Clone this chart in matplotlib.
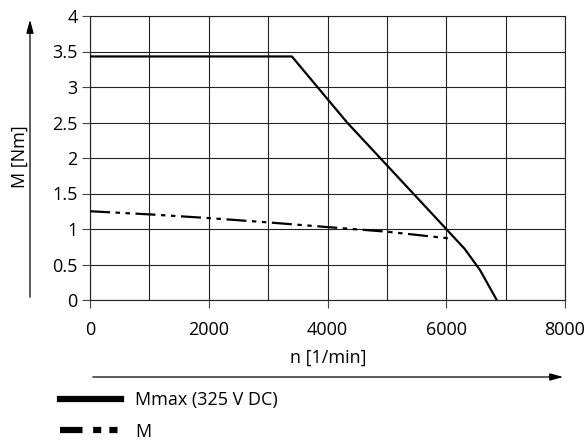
import numpy as np
import matplotlib.pyplot as plt
from matplotlib.patches import FancyArrowPatch

plt.rcParams['font.family'] = ['Open Sans', 'DejaVu Sans']
plt.rcParams['font.size'] = 13

# Mmax (325 V DC)
n_max = [0, 3400, 4330, 6000, 6310, 6570, 6850]
m_max = [3.43, 3.43, 2.5, 1.0, 0.72, 0.42, 0.0]

# M
n_m = [0, 1000, 2000, 3000, 4000, 5000, 6000, 6070]
m_m = [1.25, 1.206, 1.154, 1.093, 1.027, 0.962, 0.872, 0.86]

xticks = [0, 2000, 4000, 6000, 8000]
yticks = [0, 0.5, 1, 1.5, 2, 2.5, 3, 3.5, 4]
ylabels = ['0', '0.5', '1', '1.5', '2', '2.5', '3', '3.5', '4']

fig = plt.figure(figsize=(5.87, 4.45), dpi=100)
ax = fig.add_axes([90/587, 1-300/445, 475/587, 284/445])

l1, = ax.plot(n_max, m_max, color='black', lw=1.6, label='Mmax (325 V DC)', zorder=3)
l2, = ax.plot(n_m, m_m, color='black', lw=1.6, ls=(0, (9, 2.5, 2, 2.5, 2, 2.5)), label='M', zorder=3)

ax.set_xlim(0, 8000)
ax.set_ylim(0, 4)
ax.set_xticks(xticks)
ax.set_xticks(np.arange(0, 8001, 1000), minor=True)
ax.set_yticks(yticks)
ax.set_yticklabels(ylabels)
ax.grid(True, which='both', color='#222222', lw=0.8)
ax.tick_params(which='major', length=6, width=0.8, color='#444444')
ax.tick_params(axis='y', pad=3)
ax.tick_params(axis='x', pad=9)
ax.tick_params(which='minor', length=0)
for s in ax.spines.values():
    s.set_color('#222222')
    s.set_linewidth(0.8)

# axis labels
fig.text(328/587, 1-358/445, 'n [1/min]', ha='center', va='center')
fig.text(20/587, 1-157/445, 'M [Nm]', ha='center', va='center', rotation=90)

# arrows
fig.add_artist(FancyArrowPatch(
    (90/587, 1-377/445), (566/587, 1-377/445), transform=fig.transFigure,
    arrowstyle='-|>,head_length=8,head_width=2.2', lw=0.9, color='black', mutation_scale=1))
fig.add_artist(FancyArrowPatch(
    (30/587, 1-300/445), (30/587, 1-17/445), transform=fig.transFigure,
    arrowstyle='-|>,head_length=8,head_width=2.2', lw=0.9, color='black', mutation_scale=1))

leg = ax.legend(handles=[l1, l2], loc='upper left', bbox_to_anchor=(53/587, 1-384/445),
                bbox_transform=fig.transFigure, frameon=False, handlelength=3.35,
                handletextpad=0.78, labelspacing=0.75, borderaxespad=0)
h1, h2 = leg.get_lines()
h1.set_linewidth(4.5)
h2.set_linewidth(4.5)
h2.set_dashes([3.6, 1.7, 1.3, 1.3, 1.3, 3])

fig.savefig('out.png', dpi=100)
